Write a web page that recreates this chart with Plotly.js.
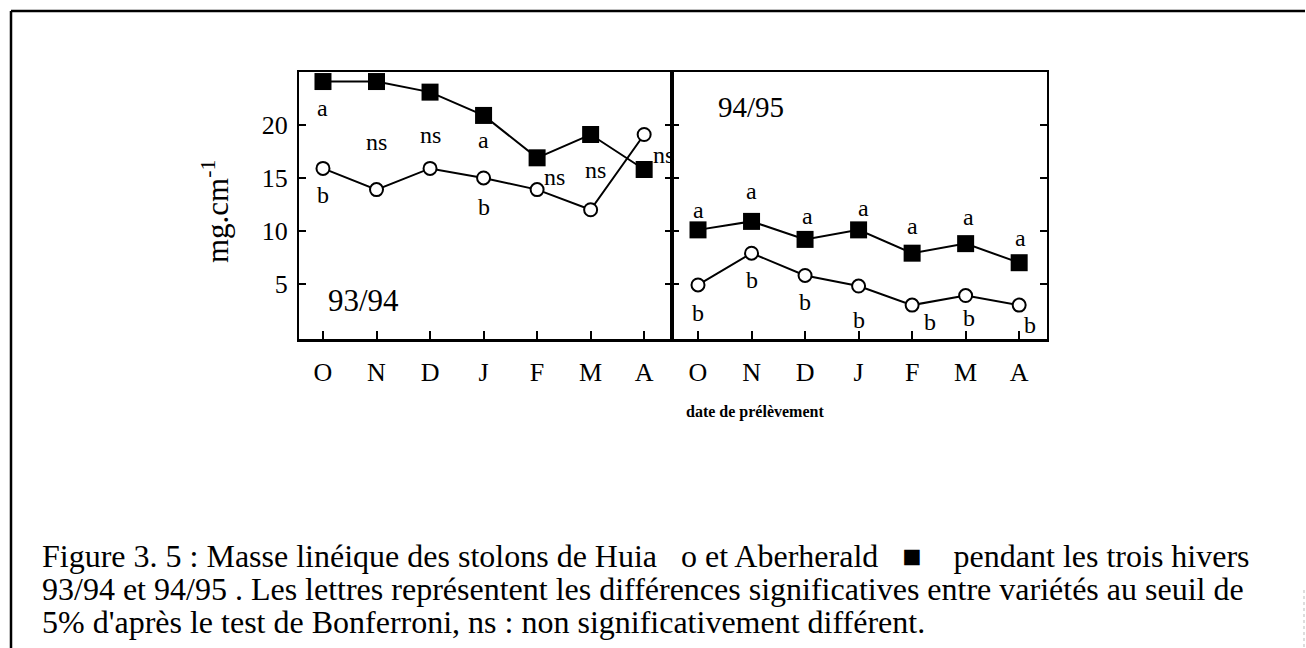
<!DOCTYPE html>
<html><head><meta charset="utf-8">
<script src="https://cdn.plot.ly/plotly-3.0.1.min.js"></script>
<style>html,body{margin:0;padding:0;background:#fff}#chart{width:1306px;height:648px}</style>
</head><body><div id="chart"></div>
<script>
// ---------------- data ----------------
const months = ['O','N','D','J','F','M','A'];
const aberherald9394 = [24.1, 24.1, 23.1, 20.9, 16.9, 19.1, 15.8];
const huia9394       = [15.9, 13.9, 15.9, 15.0, 13.9, 12.0, 19.1];
const aberherald9495 = [10.1, 10.9, 9.2, 10.1, 7.9, 8.8, 7.0];
const huia9495       = [4.9, 7.9, 5.8, 4.8, 3.0, 3.9, 3.0];
const sigAber9394 = ['a','','','a','','',''];
const sigHuia9394 = ['b','','','b','','',''];
const sigNs9394   = ['','ns','ns','','ns','ns','ns'];
const sigAber9495 = ['a','a','a','a','a','a','a'];
const sigHuia9495 = ['b','b','b','b','b','b','b'];
const yTicks = [5, 10, 15, 20];
const seasonLabels = ['93/94', '94/95'];
const yTitle = 'mg.cm<sup>-1</sup>';
const xTitle = 'date de prélèvement';
const captionLines = [
  'Figure 3. 5 : Masse linéique des stolons de Huia\u00a0\u00a0 o et Aberherald\u00a0\u00a0 ■ \u00a0\u00a0 pendant les trois hivers',
  '93/94 et 94/95 . Les lettres représentent les différences significatives entre variétés au seuil de',
  "5% d'après le test de Bonferroni, ns : non significativement différent."
];

// ---------------- layout geometry (pixels) ----------------
const W = 1306, H = 648, L = 299, R = 1047, T = 72, B = 339, DIV = 672;
const px = x => (x - L) / (R - L);
const py = y => (B - y) / (B - T);
const serif = 'Liberation Serif, Times New Roman, serif';

// label pixel offsets [xshift, yshift]
const offAber9394 = [[0,-26],null,null,[0,-25],null,null,null];
const offHuia9394 = [[0,-27],null,null,[0,-29],null,null,null];
const offNs9394   = [null,[0,-6],[0,-5],null,[17,-3],[5,2],[19,-3]];
const offAber9495 = [[0,20],[0,30],[2,23],[5,22],[0,27],[3,27],[1,25]];
const offHuia9495 = [[0,-28],[0,-27],[0,-27],[0,-34],[18,-17],[3,-22],[11,-20]];

const lineStyle = {color:'#000', width:2};
const sqMarker = {symbol:'square', size:17, color:'#000', line:{width:0}};
const ciMarker = {symbol:'circle', size:13, color:'#fff', line:{color:'#000', width:2}};

const traces = [
  {x:months, y:aberherald9394, xaxis:'x', yaxis:'y', mode:'lines+markers', line:lineStyle, marker:sqMarker, name:'Aberherald'},
  {x:months, y:huia9394, xaxis:'x', yaxis:'y', mode:'lines+markers', line:lineStyle, marker:ciMarker, name:'Huia'},
  {x:months, y:aberherald9495, xaxis:'x2', yaxis:'y2', mode:'lines+markers', line:lineStyle, marker:sqMarker, name:'Aberherald'},
  {x:months, y:huia9495, xaxis:'x2', yaxis:'y2', mode:'lines+markers', line:lineStyle, marker:ciMarker, name:'Huia'}
];

const annFont = {family: serif, size: 24, color: '#000'};
const annotations = [];
function addLabels(labels, anchorVals, offs, xr, yr) {
  labels.forEach((t, i) => {
    if (!t) return;
    const o = offs[i] || [0,0];
    annotations.push({text:t, x:months[i], y:anchorVals[i], xref:xr, yref:yr,
      xshift:o[0], yshift:o[1], showarrow:false, xanchor:'center', yanchor:'middle', font:annFont});
  });
}
addLabels(sigAber9394, aberherald9394, offAber9394, 'x', 'y');
addLabels(sigHuia9394, huia9394, offHuia9394, 'x', 'y');
addLabels(sigNs9394, aberherald9394.map((v,i) => (v + huia9394[i]) / 2), offNs9394, 'x', 'y');
addLabels(sigAber9495, aberherald9495, offAber9495, 'x2', 'y2');
addLabels(sigHuia9495, huia9495, offHuia9495, 'x2', 'y2');

// season labels
annotations.push({text:seasonLabels[0], xref:'paper', yref:'paper', x:px(363), y:py(300),
  showarrow:false, xanchor:'center', yanchor:'middle', font:{family:serif, size:31, color:'#000'}});
annotations.push({text:seasonLabels[1], xref:'paper', yref:'paper', x:px(751), y:py(107),
  showarrow:false, xanchor:'center', yanchor:'middle', font:{family:serif, size:29, color:'#000'}});
// y title
annotations.push({text:yTitle, xref:'paper', yref:'paper', x:px(215), y:py(212), textangle:-90,
  showarrow:false, xanchor:'center', yanchor:'middle', font:{family:serif, size:31, color:'#000'}});
// x title
annotations.push({text:'<b>' + xTitle + '</b>', xref:'paper', yref:'paper', x:px(755), y:py(412),
  showarrow:false, xanchor:'center', yanchor:'middle', font:{family:serif, size:16, color:'#000'}});
// caption
const capY = [556, 589, 622];
captionLines.forEach((t, i) => annotations.push({text:t, xref:'paper', yref:'paper', x:px(40), y:py(capY[i]),
  showarrow:false, xanchor:'left', yanchor:'middle', align:'left', font:{family:serif, size:32, color:'#000'}}));

const xCommon = {type:'category', categoryorder:'array', categoryarray:months,
  showline:true, linecolor:'#000', linewidth:2.5, mirror:true,
  ticks:'inside', ticklen:8, tickwidth:2, tickcolor:'#000',
  tickfont:{family:serif, size:26, color:'#000'}, ticklabelstandoff:8,
  showgrid:false, zeroline:false, fixedrange:true};
const yCommon = {range:[-0.2, 25], tickvals:yTicks, showline:true, linecolor:'#000', linewidth:2,
  mirror:'ticks', ticks:'inside', ticklen:7, tickwidth:2, tickcolor:'#000',
  showgrid:false, zeroline:false, fixedrange:true,
  tickfont:{family:serif, size:26, color:'#000'}};

const layout = {
  width: W, height: H,
  margin: {l:L, r:W - R, t:T, b:H - B, pad:0},
  paper_bgcolor:'#fff', plot_bgcolor:'#fff',
  showlegend:false,
  font:{family:serif, color:'#000'},
  xaxis: Object.assign({}, xCommon, {domain:[0, px(DIV)], range:[-0.448, 6.52], anchor:'y'}),
  xaxis2: Object.assign({}, xCommon, {domain:[px(DIV), 1], range:[-0.486, 6.52], anchor:'y2'}),
  yaxis: Object.assign({}, yCommon, {anchor:'x', ticklabelstandoff:4}),
  yaxis2: Object.assign({}, yCommon, {anchor:'x2', showticklabels:false}),
  annotations: annotations,
  shapes: [
    {type:'line', xref:'paper', yref:'paper', x0:px(11), x1:px(11), y0:py(11), y1:py(648), line:{color:'#000', width:2.5}},
    {type:'line', xref:'paper', yref:'paper', x0:px(11), x1:px(1305), y0:py(11), y1:py(11), line:{color:'#000', width:2.5}},
    {type:'line', xref:'paper', yref:'paper', x0:px(1304), x1:px(1304), y0:py(590), y1:py(648), line:{color:'#bbb', width:1, dash:'dot'}}
  ]
};

Plotly.newPlot('chart', traces, layout, {displayModeBar:false, staticPlot:true});
</script>
</body></html>
